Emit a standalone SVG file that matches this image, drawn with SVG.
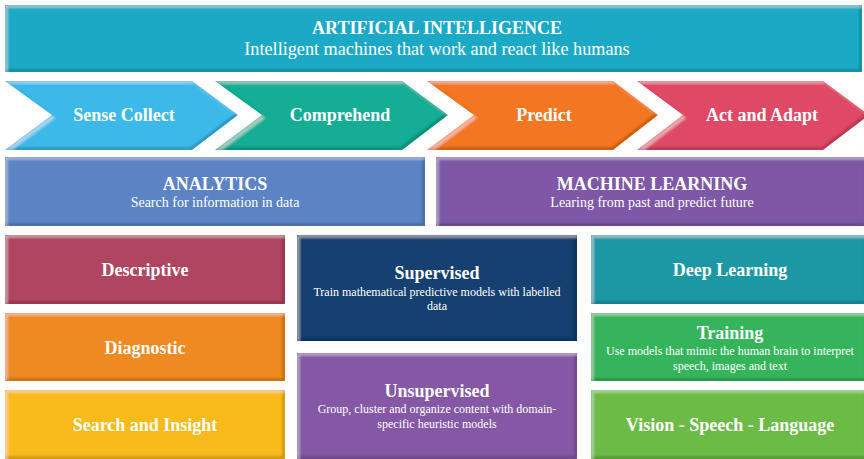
<svg xmlns="http://www.w3.org/2000/svg" width="864" height="459" viewBox="0 0 864 459">
<defs>
<filter id="bevel" x="-5%" y="-10%" width="110%" height="120%">
<feOffset in="SourceAlpha" dx="-2.5" dy="-2.5" result="oA"/>
<feComposite in="SourceAlpha" in2="oA" operator="out" result="eBR"/>
<feGaussianBlur in="eBR" stdDeviation="0.8" result="eBRb"/>
<feFlood flood-color="#000" flood-opacity="0.45"/>
<feComposite in2="eBRb" operator="in" result="sh"/>
<feComposite in="sh" in2="SourceAlpha" operator="in" result="shC"/>
<feOffset in="SourceAlpha" dx="2.5" dy="2.5" result="oB"/>
<feComposite in="SourceAlpha" in2="oB" operator="out" result="eTL"/>
<feGaussianBlur in="eTL" stdDeviation="0.8" result="eTLb"/>
<feFlood flood-color="#fff" flood-opacity="0.35"/>
<feComposite in2="eTLb" operator="in" result="hi"/>
<feComposite in="hi" in2="SourceAlpha" operator="in" result="hiC"/>
<feMerge><feMergeNode in="SourceGraphic"/><feMergeNode in="shC"/><feMergeNode in="hiC"/></feMerge>
</filter>
</defs>
<style>
.s{filter:url(#bevel)}
text{font-family:"Liberation Serif","Times New Roman",serif;fill:#fff;text-anchor:middle}
.t{font-size:18px;font-weight:bold}
.b{font-size:18.2px}
.m{font-size:14px}
.d{font-size:12px}
</style>
<rect width="864" height="459" fill="#fff"/>
<g id="ai">
<rect class="s" x="5" y="5" width="857" height="67" fill="#1fa9c6"/>
<text class="t" x="437" y="34">ARTIFICIAL INTELLIGENCE</text>
<text class="b" x="437" y="55">Intelligent machines that work and react like humans</text>
</g>
<g id="sense">
<polygon class="s" points="5,81 192,81 238,115 192,150 5,150 52,115" fill="#3cb9e9"/>
<text class="t" x="124" y="121">Sense Collect</text>
</g>
<g id="comprehend">
<polygon class="s" points="215,81 402,81 448,115 402,150 215,150 262,115" fill="#18ad95"/>
<text class="t" x="340" y="121">Comprehend</text>
</g>
<g id="predict">
<polygon class="s" points="427,81 613,81 658,115 613,150 427,150 474,115" fill="#f37621"/>
<text class="t" x="544" y="121">Predict</text>
</g>
<g id="act">
<polygon class="s" points="637,81 823,81 869,115 823,150 637,150 683,115" fill="#df4a65"/>
<text class="t" x="762" y="121">Act and Adapt</text>
</g>
<g id="analytics">
<rect class="s" x="5" y="157" width="420" height="69" fill="#5b84c4"/>
<text class="t" x="215" y="190">ANALYTICS</text>
<text class="m" x="215" y="207">Search for information in data</text>
</g>
<g id="ml">
<rect class="s" x="436" y="157" width="432" height="69" fill="#7e58a6"/>
<text class="t" x="652" y="190">MACHINE LEARNING</text>
<text class="m" x="652" y="207">Learing from past and predict future</text>
</g>
<g id="descriptive">
<rect class="s" x="5" y="235" width="280" height="69" fill="#b0445e"/>
<text class="t" x="145" y="276">Descriptive</text>
</g>
<g id="diagnostic">
<rect class="s" x="5" y="313" width="280" height="68" fill="#ed8a24"/>
<text class="t" x="145" y="354">Diagnostic</text>
</g>
<g id="search">
<rect class="s" x="5" y="390" width="280" height="69" fill="#f9ba1b"/>
<text class="t" x="145" y="431">Search and Insight</text>
</g>
<g id="supervised">
<rect class="s" x="297" y="235" width="280" height="106" fill="#173f6f"/>
<text class="t" x="437" y="279">Supervised</text>
<text class="d" x="437" y="296">Train mathematical predictive models with labelled</text>
<text class="d" x="437" y="310">data</text>
</g>
<g id="unsupervised">
<rect class="s" x="297" y="353" width="280" height="106" fill="#8458a5"/>
<text class="t" x="437" y="397">Unsupervised</text>
<text class="d" x="437" y="413">Group, cluster and organize content with domain-</text>
<text class="d" x="437" y="428">specific heuristic models</text>
</g>
<g id="deep">
<rect class="s" x="591" y="235" width="277" height="69" fill="#1e98a4"/>
<text class="t" x="730" y="276">Deep Learning</text>
</g>
<g id="training">
<rect class="s" x="591" y="313" width="277" height="68" fill="#35b45b"/>
<text class="t" x="730" y="339">Training</text>
<text class="d" x="730" y="355">Use models that mimic the human brain to interpret</text>
<text class="d" x="730" y="370">speech, images and text</text>
</g>
<g id="vision">
<rect class="s" x="591" y="390" width="277" height="69" fill="#6cbb46"/>
<text class="t" x="730" y="431">Vision - Speech - Language</text>
</g>
</svg>
